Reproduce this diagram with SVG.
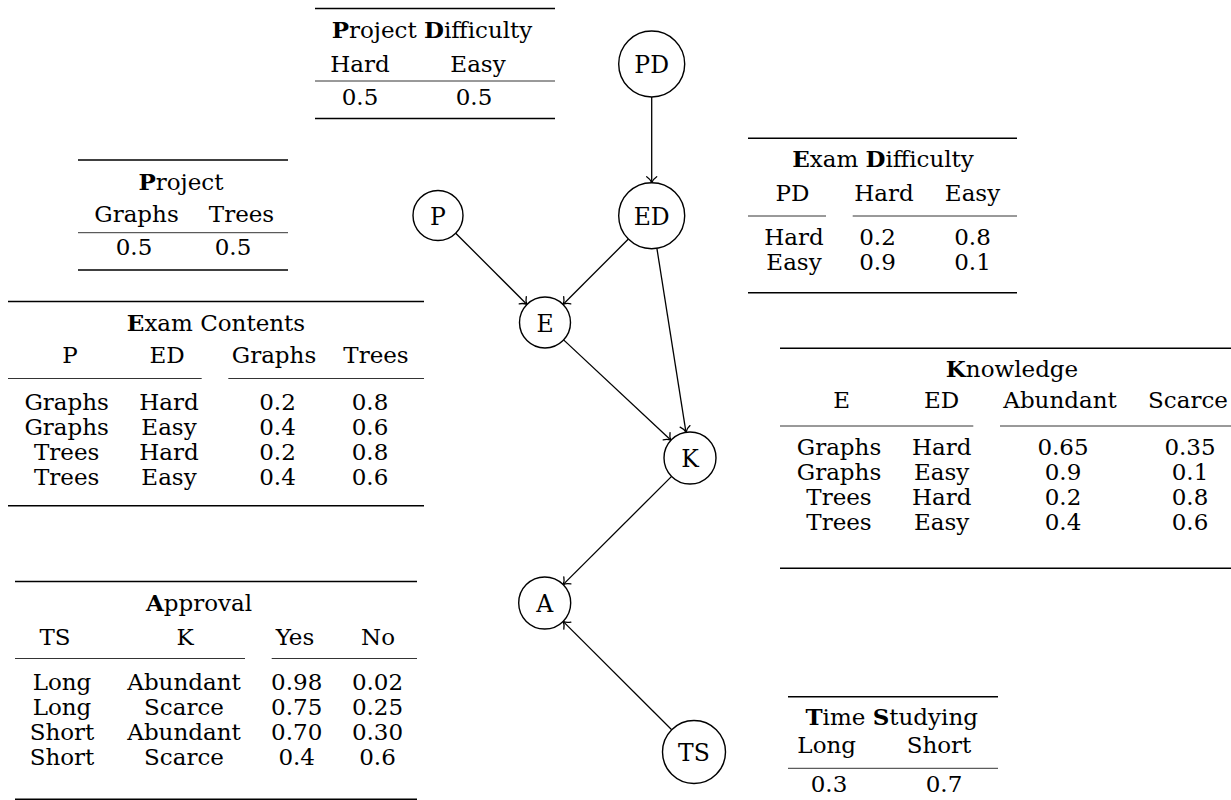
<svg xmlns="http://www.w3.org/2000/svg" width="1231" height="800" viewBox="0 0 1231 800">
  <style>
    text { font-family: 'DejaVu Serif', 'Liberation Serif', serif; font-size: 23px; fill: #000; text-anchor: middle; }
    .b { font-weight: bold; }
    .heavy { stroke: #000; stroke-width: 1.4; }
    .light { stroke: #000; stroke-width: 0.8; }
    .node circle { fill: #fff; stroke: #000; stroke-width: 1.4; }
    .node text { font-size: 23.5px; }
    .edge { stroke: #000; stroke-width: 1.3; fill: none; marker-end: url(#tip); }
  </style>
  <defs>
    <marker id="tip" markerUnits="userSpaceOnUse" markerWidth="16" markerHeight="16" viewBox="-8 -8 16 16" refX="0" refY="0" orient="auto">
      <path d="M -6,-5 C -4,-2 -1.4,-0.5 0,0 C -1.4,0.5 -4,2 -6,5" fill="none" stroke="#000" stroke-width="1.3" stroke-linecap="round"/>
    </marker>
  </defs>

  <rect width="1231" height="800" fill="#fff"/>

  <!-- Project Difficulty -->
  <g id="table-project-difficulty">
    <line class="heavy" x1="315" y1="8.5" x2="555" y2="8.5"/>
    <text x="432" y="38"><tspan class="b">P</tspan>roject <tspan class="b">D</tspan>ifficulty</text>
    <text x="360" y="71.5">Hard</text>
    <text x="478" y="71.5">Easy</text>
    <line class="light" x1="315" y1="81" x2="555" y2="81"/>
    <text x="360" y="105">0.5</text>
    <text x="474" y="105">0.5</text>
    <line class="heavy" x1="315" y1="118.5" x2="555" y2="118.5"/>
  </g>

  <!-- Project -->
  <g id="table-project">
    <line class="heavy" x1="78" y1="160" x2="288" y2="160"/>
    <text x="181" y="190"><tspan class="b">P</tspan>roject</text>
    <text x="136.5" y="221.5">Graphs</text>
    <text x="241.5" y="221.5">Trees</text>
    <line class="light" x1="78" y1="232.7" x2="288" y2="232.7"/>
    <text x="134" y="255">0.5</text>
    <text x="233" y="255">0.5</text>
    <line class="heavy" x1="78" y1="270" x2="288" y2="270"/>
  </g>

  <!-- Exam Contents -->
  <g id="table-exam-contents">
    <line class="heavy" x1="8" y1="301.5" x2="424" y2="301.5"/>
    <text x="216" y="331"><tspan class="b">E</tspan>xam Contents</text>
    <text x="70" y="363.3">P</text>
    <text x="167" y="363.3">ED</text>
    <text x="274" y="363.3">Graphs</text>
    <text x="376" y="363.3">Trees</text>
    <line class="light" x1="8" y1="378.5" x2="201.7" y2="378.5"/>
    <line class="light" x1="228.3" y1="378.5" x2="424" y2="378.5"/>
    <text x="66.7" y="410">Graphs</text><text x="169" y="410">Hard</text><text x="277.5" y="410">0.2</text><text x="370" y="410">0.8</text>
    <text x="66.7" y="435">Graphs</text><text x="169" y="435">Easy</text><text x="277.5" y="435">0.4</text><text x="370" y="435">0.6</text>
    <text x="66.7" y="460">Trees</text><text x="169" y="460">Hard</text><text x="277.5" y="460">0.2</text><text x="370" y="460">0.8</text>
    <text x="66.7" y="485">Trees</text><text x="169" y="485">Easy</text><text x="277.5" y="485">0.4</text><text x="370" y="485">0.6</text>
    <line class="heavy" x1="8" y1="505.7" x2="424" y2="505.7"/>
  </g>

  <!-- Approval -->
  <g id="table-approval">
    <line class="heavy" x1="15" y1="581.5" x2="417" y2="581.5"/>
    <text x="199" y="611"><tspan class="b">A</tspan>pproval</text>
    <text x="55" y="645">TS</text>
    <text x="185" y="645">K</text>
    <text x="295" y="645">Yes</text>
    <text x="378" y="645">No</text>
    <line class="light" x1="15" y1="658.5" x2="245" y2="658.5"/>
    <line class="light" x1="271.7" y1="658.5" x2="417" y2="658.5"/>
    <text x="62" y="690">Long</text><text x="184" y="690">Abundant</text><text x="296.7" y="690">0.98</text><text x="377.5" y="690">0.02</text>
    <text x="62" y="715">Long</text><text x="184" y="715">Scarce</text><text x="296.7" y="715">0.75</text><text x="377.5" y="715">0.25</text>
    <text x="62" y="740">Short</text><text x="184" y="740">Abundant</text><text x="296.7" y="740">0.70</text><text x="377.5" y="740">0.30</text>
    <text x="62" y="765">Short</text><text x="184" y="765">Scarce</text><text x="296.7" y="765">0.4</text><text x="377.5" y="765">0.6</text>
    <line class="heavy" x1="15" y1="799.3" x2="417" y2="799.3"/>
  </g>

  <!-- Exam Difficulty -->
  <g id="table-exam-difficulty">
    <line class="heavy" x1="748" y1="138.3" x2="1017" y2="138.3"/>
    <text x="883" y="166.7"><tspan class="b">E</tspan>xam <tspan class="b">D</tspan>ifficulty</text>
    <text x="792.5" y="201">PD</text>
    <text x="884" y="201">Hard</text>
    <text x="972.5" y="201">Easy</text>
    <line class="light" x1="748" y1="216" x2="826" y2="216"/>
    <line class="light" x1="852.7" y1="216" x2="1017" y2="216"/>
    <text x="794" y="245">Hard</text><text x="877.5" y="245">0.2</text><text x="972.5" y="245">0.8</text>
    <text x="794" y="270">Easy</text><text x="877.5" y="270">0.9</text><text x="972.5" y="270">0.1</text>
    <line class="heavy" x1="748" y1="292.7" x2="1017" y2="292.7"/>
  </g>

  <!-- Knowledge -->
  <g id="table-knowledge">
    <line class="heavy" x1="780" y1="348.3" x2="1231" y2="348.3"/>
    <text x="1012" y="376.7"><tspan class="b">K</tspan>nowledge</text>
    <text x="841.7" y="408.3">E</text>
    <text x="941.7" y="408.3">ED</text>
    <text x="1060" y="408.3">Abundant</text>
    <text x="1188" y="408.3">Scarce</text>
    <line class="light" x1="780" y1="426" x2="973.3" y2="426"/>
    <line class="light" x1="1000" y1="426" x2="1231" y2="426"/>
    <text x="839" y="455">Graphs</text><text x="941.7" y="455">Hard</text><text x="1063" y="455">0.65</text><text x="1190" y="455">0.35</text>
    <text x="839" y="480">Graphs</text><text x="941.7" y="480">Easy</text><text x="1063" y="480">0.9</text><text x="1190" y="480">0.1</text>
    <text x="839" y="505">Trees</text><text x="941.7" y="505">Hard</text><text x="1063" y="505">0.2</text><text x="1190" y="505">0.8</text>
    <text x="839" y="530">Trees</text><text x="941.7" y="530">Easy</text><text x="1063" y="530">0.4</text><text x="1190" y="530">0.6</text>
    <line class="heavy" x1="780" y1="568.3" x2="1231" y2="568.3"/>
  </g>

  <!-- Time Studying -->
  <g id="table-time-studying">
    <line class="heavy" x1="788" y1="696.7" x2="998" y2="696.7"/>
    <text x="891.7" y="725"><tspan class="b">T</tspan>ime <tspan class="b">S</tspan>tudying</text>
    <text x="826.7" y="753.3">Long</text>
    <text x="939" y="753.3">Short</text>
    <line class="light" x1="788" y1="768.3" x2="998" y2="768.3"/>
    <text x="829" y="792">0.3</text>
    <text x="944" y="792">0.7</text>
  </g>

  <!-- Connectors -->
  <g id="edges">
    <line class="edge" x1="651.7" y1="97" x2="651.7" y2="182.7"/>
    <line class="edge" x1="455.7" y1="233.2" x2="527" y2="304.5"/>
    <line class="edge" x1="628.4" y1="239" x2="563" y2="304.5"/>
    <line class="edge" x1="656.9" y1="248.3" x2="686" y2="432.3"/>
    <line class="edge" x1="563.6" y1="339.9" x2="671" y2="440.3"/>
    <line class="edge" x1="671.6" y1="476.4" x2="563.1" y2="584.6"/>
    <line class="edge" x1="671.7" y1="729.8" x2="563.1" y2="621.4"/>
  </g>

  <!-- Nodes -->
  <g id="node-PD" class="node"><circle cx="651.7" cy="64" r="33"/><text x="651.7" y="73">PD</text></g>
  <g id="node-ED" class="node"><circle cx="651.7" cy="215.7" r="33"/><text x="651.7" y="225">ED</text></g>
  <g id="node-P" class="node"><circle cx="438" cy="215.5" r="25"/><text x="438" y="225">P</text></g>
  <g id="node-E" class="node"><circle cx="545" cy="322.5" r="25.5"/><text x="545" y="331.5">E</text></g>
  <g id="node-K" class="node"><circle cx="690" cy="458" r="26"/><text x="690" y="466.8">K</text></g>
  <g id="node-A" class="node"><circle cx="544.7" cy="603" r="26"/><text x="544.7" y="611.8">A</text></g>
  <g id="node-TS" class="node"><circle cx="694" cy="752" r="31.5"/><text x="694" y="760.8">TS</text></g>
</svg>
